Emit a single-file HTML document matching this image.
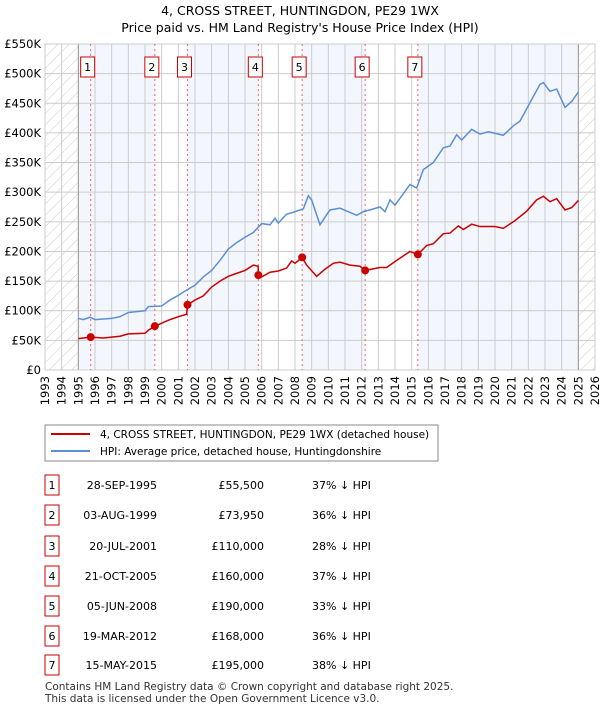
<!DOCTYPE html>
<html><head><meta charset="utf-8"><style>
body{margin:0;background:#fff;font-family:"DejaVu Sans","Liberation Sans",sans-serif;}
svg text{font-family:"DejaVu Sans","Liberation Sans",sans-serif;}
</style></head><body>
<svg id="chart" width="600" height="710" viewBox="0 0 600 710" xmlns="http://www.w3.org/2000/svg">
<defs><pattern id="hatch" width="8" height="8" patternUnits="userSpaceOnUse" patternTransform="rotate(45)"><line x1="0" y1="0" x2="0" y2="8" stroke="#ccc" stroke-width="1"/></pattern></defs>
<text x="300" y="15" text-anchor="middle" font-size="12.5">4, CROSS STREET, HUNTINGDON, PE29 1WX</text>
<text x="300" y="32" text-anchor="middle" font-size="12.5">Price paid vs. HM Land Registry's House Price Index (HPI)</text>
<g id="plot"></g>
<g>
<rect x="45" y="425" width="393" height="36" fill="#fff" stroke="#888"/>
<line x1="51" y1="434" x2="90" y2="434" stroke="#cc0000" stroke-width="2"/>
<text x="100" y="438" font-size="10.5">4, CROSS STREET, HUNTINGDON, PE29 1WX (detached house)</text>
<line x1="51" y1="451" x2="90" y2="451" stroke="#5b8fd4" stroke-width="2"/>
<text x="100" y="455" font-size="10.5">HPI: Average price, detached house, Huntingdonshire</text>
</g>
<g id="table"></g>
<text x="45" y="690" font-size="10.5" fill="#333">Contains HM Land Registry data © Crown copyright and database right 2025.</text>
<text x="45" y="702" font-size="10.5" fill="#333">This data is licensed under the Open Government Licence v3.0.</text>
</svg>
<script>
const yTicks=[0,50,100,150,200,250,300,350,400,450,500,550];
const yTickLabels=["£0","£50K","£100K","£150K","£200K","£250K","£300K","£350K","£400K","£450K","£500K","£550K"];
const years=[1993,1994,1995,1996,1997,1998,1999,2000,2001,2002,2003,2004,2005,2006,2007,2008,2009,2010,2011,2012,2013,2014,2015,2016,2017,2018,2019,2020,2021,2022,2023,2024,2025,2026];
const saleLabels=["1","2","3","4","5","6","7"];
const saleDates=[1995.74,1999.59,2001.55,2005.8,2008.43,2012.21,2015.37];
const salePrices=[55.5,73.95,110,160,190,168,195];
const saleDateText=["28-SEP-1995","03-AUG-1999","20-JUL-2001","21-OCT-2005","05-JUN-2008","19-MAR-2012","15-MAY-2015"];
const salePriceText=["£55,500","£73,950","£110,000","£160,000","£190,000","£168,000","£195,000"];
const saleHpiText=["37% ↓ HPI","36% ↓ HPI","28% ↓ HPI","37% ↓ HPI","33% ↓ HPI","36% ↓ HPI","38% ↓ HPI"];
const hpiT=[1995,1995.3,1995.7,1996,1997,1997.5,1998,1999,1999.2,2000,2000.5,2001,2001.5,2002,2002.5,2003,2003.5,2004,2004.5,2005,2005.5,2006,2006.5,2006.8,2007,2007.5,2008,2008.5,2008.8,2009,2009.2,2009.5,2009.9,2010.1,2010.7,2011.7,2012.1,2013.1,2013.4,2013.7,2014,2014.9,2015.3,2015.7,2016.3,2016.9,2017.3,2017.7,2018,2018.6,2019.1,2019.6,2020.5,2021.1,2021.5,2022.1,2022.7,2022.9,2023.3,2023.7,2024.2,2024.6,2025];
const hpiV=[87,85,89,85,87,90,97,100,107,108,118,126,135,143,157,168,185,204,215,224,232,247,245,256,248,263,267,272,294,287,270,245,262,270,273,261,267,275,267,287,278,313,307,338,350,375,378,397,388,406,398,402,396,412,420,451,482,485,470,474,443,453,469];
const ppT=[1995,1995.74,1996.5,1997.5,1998,1999,1999.2,1999.59,2000,2000.5,2001,2001.5,2001.55,2002,2002.5,2003,2003.5,2004,2004.5,2005,2005.5,2005.79,2005.8,2006,2006.5,2007,2007.5,2007.8,2008,2008.43,2008.7,2009.3,2009.8,2010.3,2010.7,2011.3,2011.9,2012.21,2013.1,2013.5,2014.1,2014.9,2015.37,2015.9,2016.3,2016.9,2017.3,2017.8,2018.1,2018.6,2019.1,2020,2020.5,2021.2,2021.9,2022.5,2022.9,2023.3,2023.7,2024.2,2024.6,2025];
const ppV=[53,55.5,54,57,61,62,67,73.95,79,85,90,94,110,118,125,140,150,158,163,168,177,175,160,157,165,167,172,184,180,190,177,158,170,180,182,177,175,168,173,173,185,200,195,210,213,230,231,243,237,246,242,242,239,252,268,287,293,284,289,270,274,286];
const NS="http://www.w3.org/2000/svg";
const X0=45,X1=595,Y0=370,Y1=44;
const xs=t=>X0+(t-1993)*(X1-X0)/33;
const ys=v=>Y0-v*(Y0-Y1)/550;
const plot=document.getElementById('plot');
function mk(tag,attrs,parent){const e=document.createElementNS(NS,tag);for(const k in attrs)e.setAttribute(k,attrs[k]);(parent||plot).appendChild(e);return e;}
// bands
const bandEdges=[1995].concat(saleDates.slice(1)).concat([2025]);
for(let i=0;i<bandEdges.length-1;i++){if(i%2==0){const r=mk('rect',{x:xs(bandEdges[i]),y:Y1,width:xs(bandEdges[i+1])-xs(bandEdges[i]),height:Y0-Y1,fill:'#f3f6fd'});

}}
mk('rect',{x:X0,y:Y1,width:xs(1995)-X0,height:Y0-Y1,fill:'url(#hatch)'});
mk('rect',{x:xs(2025),y:Y1,width:X1-xs(2025),height:Y0-Y1,fill:'url(#hatch)'});
// grid
yTicks.forEach((v,i)=>{mk('line',{x1:X0,x2:X1,y1:ys(v),y2:ys(v),stroke:'#ccc'});
const t=mk('text',{x:X0-4,y:ys(v)+4,'text-anchor':'end','font-size':'11.5'});t.textContent=yTickLabels[i];

});
years.forEach(y=>{mk('line',{x1:xs(y),x2:xs(y),y1:Y1,y2:Y0,stroke:'#ccc'});
const t=mk('text',{x:0,y:0,'text-anchor':'end','font-size':'11.5',transform:`translate(${xs(y)+4},376) rotate(-90)`});t.textContent=y;

});
mk('line',{x1:xs(1995),x2:xs(1995),y1:Y1,y2:Y0,stroke:'#999'});
mk('line',{x1:xs(2025),x2:xs(2025),y1:Y1,y2:Y0,stroke:'#999'});
mk('rect',{x:X0,y:Y1,width:X1-X0,height:Y0-Y1,fill:'none',stroke:'#ccc'});
// sale lines and labels
saleDates.forEach((d,i)=>{mk('line',{x1:xs(d),x2:xs(d),y1:Y1,y2:Y0,stroke:'#e66','stroke-dasharray':'2,3'});
const b=mk('rect',{x:xs(d)-10,y:57,width:14,height:20,fill:'#fff',stroke:'#cc0000'});


const t=mk('text',{x:xs(d)-3,y:71,'text-anchor':'middle','font-size':'11'});t.textContent=saleLabels[i];});
// lines
const hp=mk('polyline',{points:hpiT.map((t,i)=>xs(t)+','+ys(hpiV[i])).join(' '),fill:'none',stroke:'#5b8fd4','stroke-width':1.5});


const pp=mk('polyline',{points:ppT.map((t,i)=>xs(t)+','+ys(ppV[i])).join(' '),fill:'none',stroke:'#cc0000','stroke-width':1.5});


saleDates.forEach((d,i)=>{const c=mk('circle',{cx:xs(d),cy:ys(salePrices[i]),r:4,fill:'#cc0000'});

});
// table
const tb=document.getElementById('table');
const rowY=[484,514,545,575,605,635,664];
saleLabels.forEach((l,i)=>{const y=rowY[i];
const b=mk('rect',{x:45,y:y-9,width:14,height:20,fill:'#fff',stroke:'#cc0000'},tb);


let t=mk('text',{x:52,y:y+5,'text-anchor':'middle','font-size':'11'},tb);t.textContent=l;
t=mk('text',{x:157,y:y+5,'text-anchor':'end','font-size':'11'},tb);t.textContent=saleDateText[i];
t=mk('text',{x:264,y:y+5,'text-anchor':'end','font-size':'11'},tb);t.textContent=salePriceText[i];
t=mk('text',{x:312,y:y+5,'font-size':'11'},tb);t.textContent=saleHpiText[i];});
</script>
</body></html>
